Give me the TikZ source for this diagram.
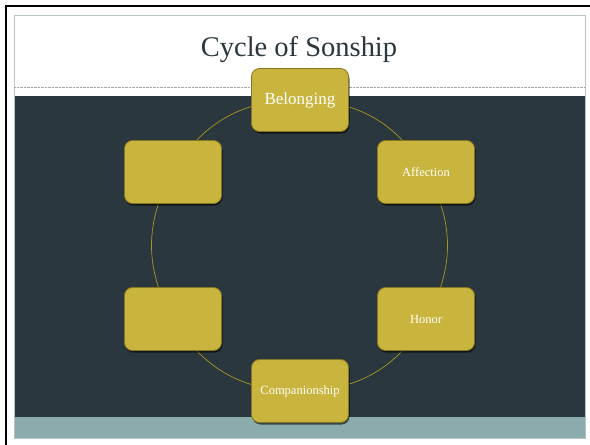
\documentclass[tikz,border=0pt]{standalone}
\usepackage{fontspec}
\setmainfont{Liberation Serif}
\usetikzlibrary{shadows,backgrounds}
\definecolor{slate}{HTML}{2A373E}
\definecolor{gold}{HTML}{C9B43D}
\definecolor{goldedge}{HTML}{857622}
\definecolor{ringgold}{HTML}{A8961F}
\definecolor{sea}{HTML}{8BACAC}
\definecolor{rim}{HTML}{B5C5C7}
\begin{document}
\begin{tikzpicture}[x=1pt, y=-1pt,
    stage/.style={rounded corners=8pt, fill=gold, draw=goldedge, line width=0.8pt,
        minimum width=97pt, minimum height=63pt, text=white,
        font=\fontsize{12.5}{15}\selectfont,
        drop shadow={shadow xshift=1pt, shadow yshift=-2pt, opacity=0.6, fill=black}},
    ring/.style={draw=ringgold, line width=0.7pt}]
    \useasboundingbox (0,0) rectangle (590,445);

    % slide
    \begin{pgfonlayer}{background}
        \fill [white] (0,0) rectangle (590,445);
        \draw [line width=2.5pt] (6,445) -- (6,6) -- (590,6);
        \fill [slate] (14,96) rectangle (585,417);
        \fill [sea] (14,417) rectangle (585,438);
        \draw [rim, line width=0.8pt] (14,15) rectangle (585,438);
        \draw [gray!70, densely dotted, line width=0.4pt] (14,87) -- (585,87);
    \end{pgfonlayer}
    \node [font=\fontsize{28.5}{34}\selectfont, text=slate] (title) at (299,50) {Cycle of Sonship};

    % cycle
    \node [stage, font=\fontsize{17}{20}\selectfont] (belonging) at (300,100) {Belonging};
    \node [stage] (affection)     at (426,172) {Affection};
    \node [stage] (honor)         at (426,319) {Honor};
    \node [stage] (companionship) at (300,391) {Companionship};
    \node [stage] (lowblank)      at (173,319) {};
    \node [stage] (highblank)     at (173,172) {};

    \begin{pgfonlayer}{background}
        \draw [ring] (belonging.center) to [bend left=30] (affection.center);
        \draw [ring] (affection.center) to [bend left=30] (honor.center);
        \draw [ring] (honor.center) to [bend left=30] (companionship.center);
        \draw [ring] (companionship.center) to [bend left=30] (lowblank.center);
        \draw [ring] (lowblank.center) to [bend left=30] (highblank.center);
        \draw [ring] (highblank.center) to [bend left=30] (belonging.center);
    \end{pgfonlayer}
\end{tikzpicture}
\end{document}
